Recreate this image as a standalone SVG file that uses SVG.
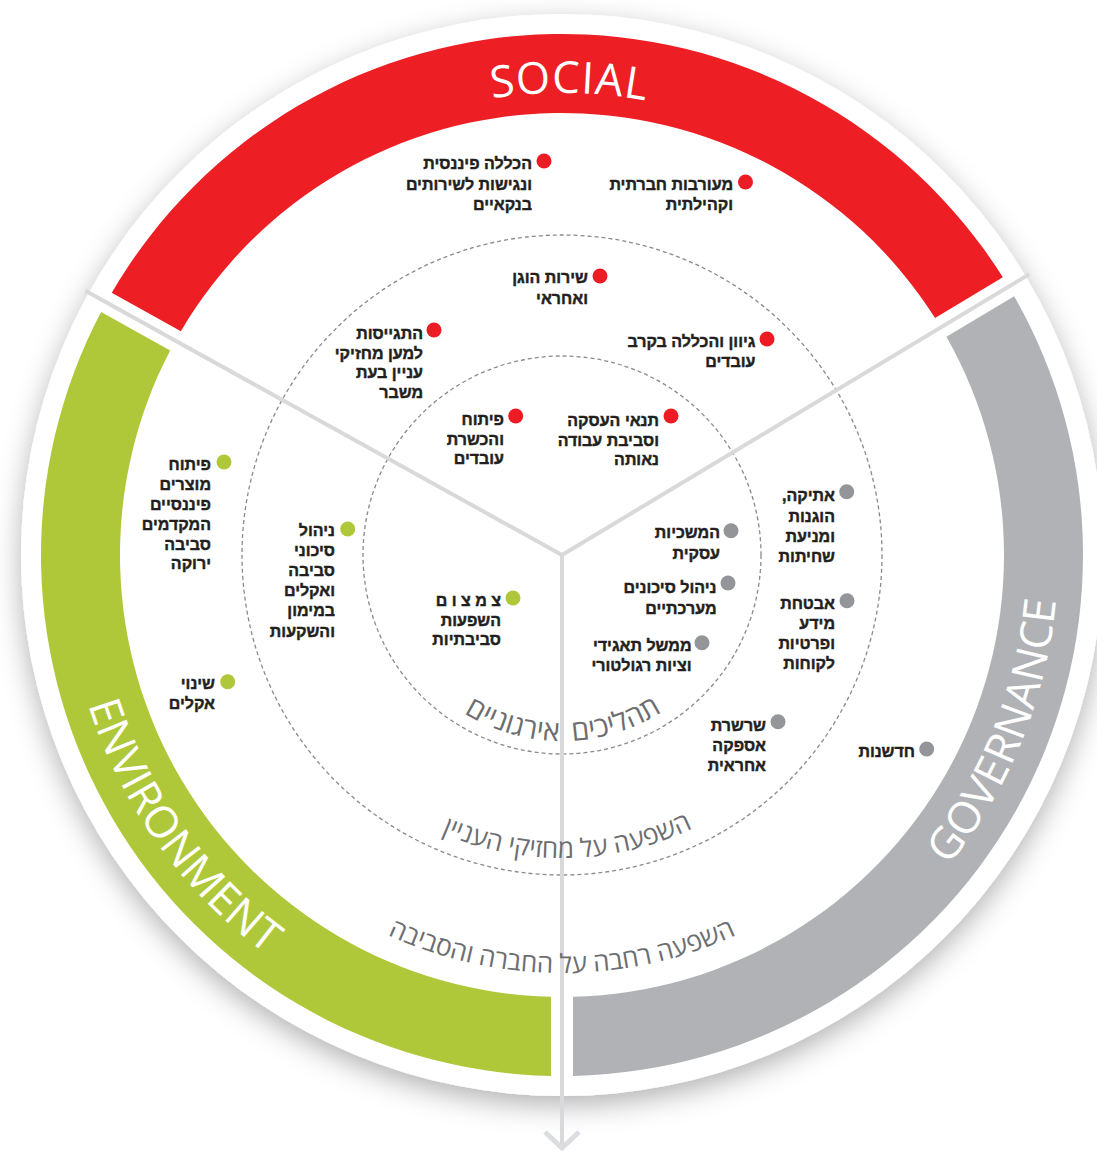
<svg xmlns="http://www.w3.org/2000/svg" width="1097" height="1151" viewBox="0 0 1097 1151">
<style>
.t{font-family:"Liberation Sans","DejaVu Sans",sans-serif;font-weight:700;font-size:16px;fill:#231f20;stroke:#231f20;stroke-width:0.45;direction:rtl;text-anchor:start}
.arc{font-family:"Open Sans","DejaVu Sans",sans-serif;font-size:26px;fill:#6d6e71}
.arc.big{font-size:28.5px;word-spacing:6px}
.band{font-family:"Open Sans","DejaVu Sans",sans-serif;font-size:44px;fill:#fff}
.dash{fill:none;stroke:#8a8a8c;stroke-width:1.3;stroke-dasharray:4 3}
.div{stroke:#d9d9db;stroke-width:4;fill:none}
.dr{fill:#ed1c24}.dg{fill:#939598}.dv{fill:#afc83a}
</style>
<defs>
<filter id="sh" x="-10%" y="-10%" width="120%" height="125%">
<feDropShadow dx="0" dy="9" stdDeviation="14" flood-color="#000" flood-opacity="0.3"/>
</filter>
<path id="pSoc" d="M 235.3 228.3 A 462 462 0 0 1 888.7 228.3"/>
<path id="pEnv" d="M 65 555 A 497 497 0 0 0 475.7 1044.45"/>
<path id="pGov" d="M 810 984.55 A 496 496 0 0 0 1028.09 385.36"/>
<path id="pA1" d="M 400.9 648 A 186 186 0 0 0 723.1 648"/>
<path id="pA2" d="M 299.6 706.5 A 303 303 0 0 0 824.4 706.5"/>
<path id="pA3" d="M 200 764 A 418 418 0 0 0 924 764"/>
</defs>
<rect width="1097" height="1151" fill="#fff"/>
<circle cx="562" cy="555" r="541" fill="#fff" filter="url(#sh)"/>

<g id="bands">
<path id="band-social" fill="#ed1f24" d="M 111.75 292.85 A 521 521 0 0 1 1002.82 277.3 L 935.09 317.99 A 442 442 0 0 0 180.87 331.16 Z"/>
<path id="band-governance" fill="#b1b2b5" d="M 1014.15 296.15 A 521 521 0 0 1 573 1075.88 L 573 996.86 A 442 442 0 0 0 946.42 336.85 Z"/>
<path id="band-environment" fill="#afc83a" d="M 551 1075.88 A 521 521 0 0 1 101.09 312.09 L 170.21 350.4 A 442 442 0 0 0 551 996.86 Z"/>
<text class="band" letter-spacing="1"><textPath href="#pSoc" startOffset="51%" text-anchor="middle">SOCIAL</textPath></text>
<text class="band"><textPath href="#pEnv" startOffset="44.4%" text-anchor="middle">ENVIRONMENT</textPath></text>
<text class="band"><textPath href="#pGov" startOffset="47.5%" text-anchor="middle">GOVERNANCE</textPath></text>
</g>

<g id="rings">
<circle class="dash" cx="562" cy="555" r="199"/>
<circle class="dash" cx="562" cy="555" r="320"/>
</g>

<g id="connectors">
<line class="div" x1="562" y1="555" x2="85.3" y2="290.8"/>
<line class="div" x1="562" y1="555" x2="1029.2" y2="274.3"/>
<line class="div" x1="562" y1="555" x2="562" y2="1149"/>
<polyline points="545,1132 562,1148 579,1132" fill="none" stroke="#dcdde0" stroke-width="5"/>
</g>

<g id="arc-labels">
<text class="arc big"><textPath href="#pA1" startOffset="50.3%" text-anchor="middle">תהליכים אירגוניים</textPath></text>
<text class="arc"><textPath href="#pA2" startOffset="50.9%" text-anchor="middle">השפעה על מחזיקי העניין</textPath></text>
<text class="arc"><textPath href="#pA3" startOffset="50%" text-anchor="middle">השפעה רחבה על החברה והסביבה</textPath></text>
</g>

<g id="node-financial-inclusion"><circle class="dr" cx="544" cy="161" r="7.5"/><text class="t"><tspan x="532" y="169">הכללה פיננסית</tspan><tspan x="532" y="189.5">ונגישות לשירותים</tspan><tspan x="532" y="210">בנקאיים</tspan></text></g>
<g id="node-community"><circle class="dr" cx="745.5" cy="182" r="7.5"/><text class="t"><tspan x="733" y="190">מעורבות חברתית</tspan><tspan x="733" y="210">וקהילתית</tspan></text></g>
<g id="node-fair-service"><circle class="dr" cx="600" cy="276" r="7.5"/><text class="t"><tspan x="588" y="283">שירות הוגן</tspan><tspan x="588" y="303.5">ואחראי</tspan></text></g>
<g id="node-diversity"><circle class="dr" cx="767" cy="339" r="7.5"/><text class="t"><tspan x="755.5" y="347">גיוון והכללה בקרב</tspan><tspan x="755.5" y="367">עובדים</tspan></text></g>
<g id="node-crisis"><circle class="dr" cx="434" cy="330" r="7.5"/><text class="t"><tspan x="423" y="339">התגייסות</tspan><tspan x="423" y="358.5">למען מחזיקי</tspan><tspan x="423" y="378">עניין בעת</tspan><tspan x="423" y="397.5">משבר</tspan></text></g>
<g id="node-training"><circle class="dr" cx="515.7" cy="416" r="7.5"/><text class="t"><tspan x="504" y="424.5">פיתוח</tspan><tspan x="504" y="444.5">והכשרת</tspan><tspan x="504" y="464">עובדים</tspan></text></g>
<g id="node-employment"><circle class="dr" cx="671" cy="416" r="7.5"/><text class="t"><tspan x="659" y="425.5">תנאי העסקה</tspan><tspan x="659" y="445.5">וסביבת עבודה</tspan><tspan x="659" y="465">נאותה</tspan></text></g>

<g id="node-ethics"><circle class="dg" cx="846.7" cy="491.7" r="7.5"/><text class="t"><tspan x="835" y="501">אתיקה,</tspan><tspan x="835" y="521.5">הוגנות</tspan><tspan x="835" y="541.5">ומניעת</tspan><tspan x="835" y="561.5">שחיתות</tspan></text></g>
<g id="node-continuity"><circle class="dg" cx="731" cy="530.7" r="7.5"/><text class="t"><tspan x="720" y="538">המשכיות</tspan><tspan x="720" y="558.5">עסקית</tspan></text></g>
<g id="node-risk"><circle class="dg" cx="728" cy="583" r="7.5"/><text class="t"><tspan x="716.5" y="593">ניהול סיכונים</tspan><tspan x="716.5" y="613.5">מערכתיים</tspan></text></g>
<g id="node-governance"><circle class="dg" cx="702" cy="642.7" r="7.5"/><text class="t"><tspan x="691.5" y="650.5">ממשל תאגידי</tspan><tspan x="691.5" y="670.5">וציות רגולטורי</tspan></text></g>
<g id="node-security"><circle class="dg" cx="847" cy="600.7" r="7.5"/><text class="t"><tspan x="835" y="608.5">אבטחת</tspan><tspan x="835" y="628.5">מידע</tspan><tspan x="835" y="648.5">ופרטיות</tspan><tspan x="835" y="668.5">לקוחות</tspan></text></g>
<g id="node-supply-chain"><circle class="dg" cx="778" cy="721.7" r="7.5"/><text class="t"><tspan x="766" y="730.5">שרשרת</tspan><tspan x="766" y="750.5">אספקה</tspan><tspan x="766" y="770.5">אחראית</tspan></text></g>
<g id="node-innovation"><circle class="dg" cx="926.7" cy="749" r="7.5"/><text class="t"><tspan x="915" y="757">חדשנות</tspan></text></g>

<g id="node-green-products"><circle class="dv" cx="224" cy="462" r="7.5"/><text class="t"><tspan x="211" y="469.5">פיתוח</tspan><tspan x="211" y="489.5">מוצרים</tspan><tspan x="211" y="509.5">פיננסיים</tspan><tspan x="211" y="529.5">המקדמים</tspan><tspan x="211" y="549.5">סביבה</tspan><tspan x="211" y="569">ירוקה</tspan></text></g>
<g id="node-climate-risk"><circle class="dv" cx="347.7" cy="529" r="7.5"/><text class="t"><tspan x="335" y="536">ניהול</tspan><tspan x="335" y="556">סיכוני</tspan><tspan x="335" y="576">סביבה</tspan><tspan x="335" y="596">ואקלים</tspan><tspan x="335" y="616">במימון</tspan><tspan x="335" y="636.5">והשקעות</tspan></text></g>
<g id="node-climate-change"><circle class="dv" cx="227.7" cy="681.7" r="7.5"/><text class="t"><tspan x="215" y="688.5">שינוי</tspan><tspan x="215" y="708.5">אקלים</tspan></text></g>
<g id="node-reduce-impact"><circle class="dv" cx="513" cy="598" r="7.5"/><text class="t"><tspan x="501" y="605.5">צ מ צ ו ם</tspan><tspan x="501" y="625.5">השפעות</tspan><tspan x="501" y="644.5">סביבתיות</tspan></text></g>
</svg>
